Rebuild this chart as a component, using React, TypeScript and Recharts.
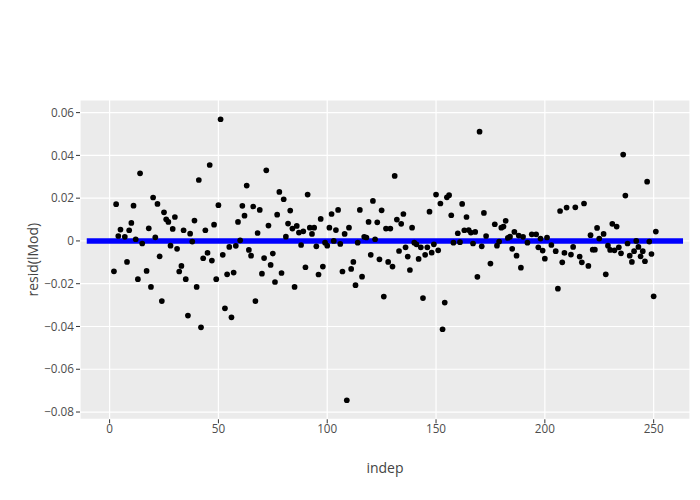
import {
    CartesianGrid,
    Label,
    ReferenceLine,
    Scatter,
    ScatterChart,
    XAxis,
    YAxis,
} from 'recharts'

// index of each visible residual (points hidden under the blue line are left out)
const indep = [
    2, 3, 4, 5, 7, 8, 9, 10, 11, 12, 13, 14, 15, 17, 18, 19, 20, 21, 22, 23, 24, 25, 26, 27, 28, 29, 30,
    31, 32, 33, 34, 35, 36, 37, 38, 39, 40, 41, 42, 43, 44, 45, 46, 47, 48, 49, 50,
    51, 52, 53, 54, 55, 56, 57, 58, 59, 60, 61, 62, 63, 64, 65, 66, 67, 68, 69, 70,
    71, 72, 73, 74, 75, 76, 77, 78, 79, 80, 81, 82, 83, 84, 85, 86, 87, 88, 89, 90,
    91, 92, 93, 94, 95, 96, 97, 98, 99, 100, 101, 102, 103, 104, 105, 106, 107, 108, 109, 110,
    111, 112, 113, 114, 115, 116, 117, 118, 119, 120, 121, 122, 123, 124, 125, 126, 127, 128, 129, 130,
    131, 132, 133, 134, 135, 136, 137, 138, 139, 140, 141, 142, 143, 144, 145, 146, 147, 148, 149, 150,
    151, 152, 153, 154, 155, 156, 157, 158, 160, 161, 162, 163, 164, 165, 166, 167, 168, 169, 170,
    171, 172, 173, 175, 177, 178, 179, 180, 181, 182, 183, 184, 185, 186, 187, 188, 189, 190,
    192, 194, 196, 197, 198, 199, 200, 201, 203, 205, 206, 207, 208, 209, 210,
    212, 213, 214, 216, 217, 218, 220, 221, 222, 223, 224, 225, 227, 228, 229, 230,
    231, 232, 233, 234, 235, 236, 237, 238, 239, 240, 241, 242, 243, 244, 245, 246, 247, 248, 249, 250, 251,
]

const resid = [
    -0.0142, 0.0172, 0.0023, 0.0053, 0.0019, -0.0098, 0.005, 0.0084, 0.0165, 0.0008, -0.0179, 0.0316, -0.0012,
    -0.014, 0.0059, -0.0215, 0.0203, 0.0017, 0.0173, -0.0072, -0.0281, 0.0134, 0.0101, 0.0089, -0.0022, 0.0056, 0.0112,
    -0.0037, -0.0143, -0.0117, 0.005, -0.0179, -0.0349, 0.0034, -0.0003, 0.0095, -0.0215, 0.0285, -0.0404, -0.0081,
    0.005, -0.0056, 0.0355, -0.0092, 0.0076, -0.0179, 0.0167,
    0.0569, -0.0065, -0.0315, -0.0156, -0.0028, -0.0357, -0.0148, -0.0023, 0.0089, 0.0003, 0.0164, 0.0118, 0.0259,
    -0.0042, -0.0069, 0.0161, -0.0281, 0.0037, 0.0145, -0.0153,
    -0.008, 0.033, 0.0072, -0.0112, -0.0059, -0.0192, 0.0123, 0.0229, -0.015, 0.0195, 0.002, 0.0081, 0.0142,
    0.0058, -0.0215, 0.007, 0.0039, -0.0019, 0.0045, -0.0123,
    0.0217, 0.0062, 0.0033, 0.0062, -0.0025, -0.0157, 0.0103, -0.012, -0.0008, -0.0022, 0.0062, 0.0126, 0.0,
    0.0051, 0.0145, -0.0014, -0.0143, 0.0033, -0.0745, 0.0062,
    -0.0131, -0.0098, -0.0207, -0.0008, 0.0145, -0.0167, 0.0019, 0.0016, 0.0089, -0.0065, 0.0187, 0.0008, 0.0087,
    -0.0086, 0.0143, -0.026, 0.0058, -0.0098, 0.0058, -0.012,
    0.0304, 0.01, -0.0047, 0.008, 0.0126, -0.003, -0.0073, -0.0136, 0.0062, -0.0008, -0.0016, -0.0084, -0.003,
    -0.0267, -0.0065, -0.003, 0.0137, -0.0055, -0.0016, 0.0217,
    -0.0044, 0.0175, -0.0413, -0.0288, 0.0204, 0.0214, 0.012, -0.0008, 0.0036, -0.0006, 0.0173, 0.005, 0.0112,
    0.0051, 0.0039, -0.0012, 0.0042, -0.0168, 0.0511,
    -0.0025, 0.0131, 0.0023, -0.0106, 0.0078, -0.0022, -0.0003, 0.0062, 0.0067, 0.0094, 0.0014, 0.002, -0.0037,
    0.0042, -0.0069, 0.0025, -0.0125, 0.0019,
    -0.0008, 0.0031, 0.0031, -0.003, 0.0011, -0.0045, -0.0083, 0.0016, -0.0019, -0.0048, -0.0223, 0.014, -0.01,
    -0.0056, 0.0156,
    -0.0064, -0.0028, 0.0157, -0.0073, -0.01, 0.0175, -0.0117, 0.0027, -0.0041, -0.0041, 0.0061, 0.0011, 0.0033,
    -0.0156, -0.0022, -0.0042,
    0.008, -0.0044, 0.0067, -0.003, -0.0058, 0.0404, 0.0212, -0.0012, -0.0069, -0.0098, -0.0048, 0.0, -0.0028,
    -0.0072, -0.0048, -0.0095, 0.0277, -0.0003, -0.0061, -0.0259, 0.0044,
]

const xTicks = [0, 50, 100, 150, 200, 250]
const yTicks = [-0.08, -0.06, -0.04, -0.02, 0, 0.02, 0.04, 0.06]

// zero line drawn across the panel
const zeroLineX = [-10.5, 263.5]

const points = indep.map((x, i) => ({x, y: resid[i]}))

const font = '"Open Sans", verdana, arial, sans-serif'
const tickStyle = {fill: '#4d4d4d', fontSize: 11.7, fontFamily: font}
const titleStyle = {fill: '#444444', fontSize: 14, fontFamily: font}

const formatY = (value: number) => {
    if (value === 0) return '0'
    return value.toFixed(2).replace('-', '\u2212')
}

const Dot = (props: {cx?: number; cy?: number}) => (
    <circle cx={props.cx} cy={props.cy} r={2.85} fill="#000000"/>
)

export default function App() {
    return (
        <div style={{position: 'absolute', left: 0, top: 0, width: 700, height: 500, background: '#ffffff'}}>
            <ScatterChart
                width={700}
                height={500}
                margin={{top: 100, right: 10, bottom: 10.7, left: 20}}
            >
                <CartesianGrid fill="#ebebeb" stroke="#ffffff" strokeWidth={1.2}/>
                <XAxis
                    type="number"
                    dataKey="x"
                    domain={[-13.6, 266.7]}
                    ticks={xTicks}
                    allowDataOverflow
                    height={70}
                    axisLine={false}
                    tickLine={{stroke: '#333333'}}
                    tickSize={4}
                    tickMargin={1}
                    tick={tickStyle}
                >
                    <Label value="indep" position="insideBottom" offset={16} style={titleStyle}/>
                </XAxis>
                <YAxis
                    type="number"
                    dataKey="y"
                    domain={[-0.0834, 0.0659]}
                    ticks={yTicks}
                    allowDataOverflow
                    width={60}
                    axisLine={false}
                    tickLine={{stroke: '#333333'}}
                    tickSize={4}
                    tickMargin={2}
                    tick={tickStyle}
                    tickFormatter={formatY}
                >
                    <Label
                        value="resid(lMod)"
                        angle={-90}
                        position="insideLeft"
                        offset={13}
                        style={{...titleStyle, textAnchor: 'middle'}}
                    />
                </YAxis>
                <Scatter data={points} shape={<Dot/>} isAnimationActive={false}/>
                <ReferenceLine
                    segment={[{x: zeroLineX[0], y: 0}, {x: zeroLineX[1], y: 0}]}
                    stroke="#0000ff"
                    strokeWidth={5.5}
                    ifOverflow="extendDomain"
                />
            </ScatterChart>
        </div>
    )
}
